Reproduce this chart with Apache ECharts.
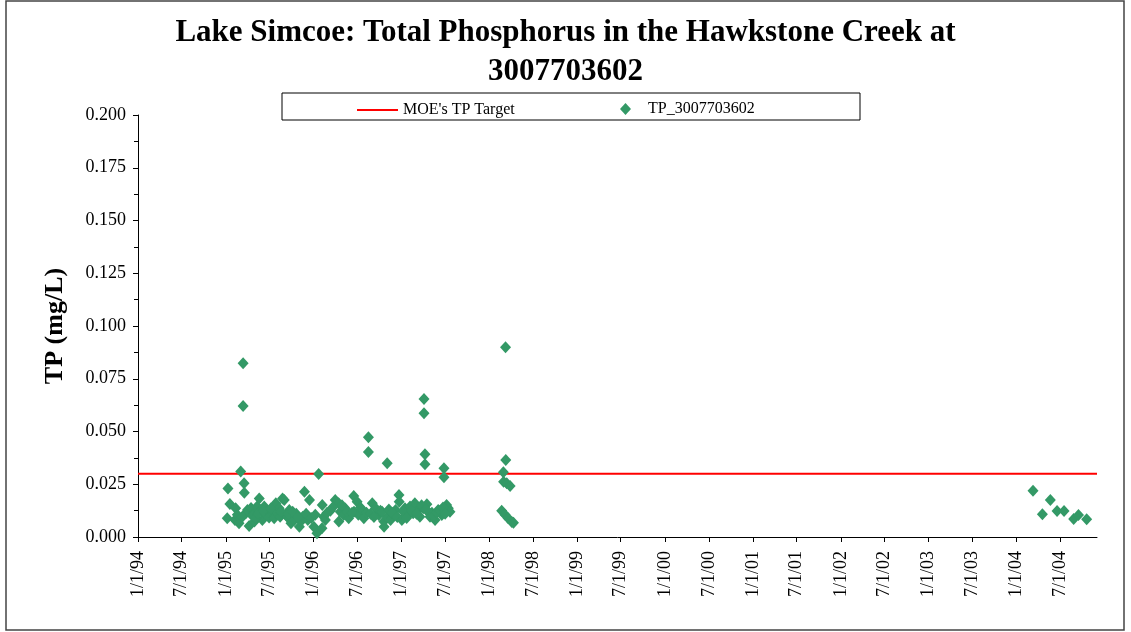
<!DOCTYPE html>
<html>
<head>
<meta charset="utf-8">
<title>Lake Simcoe TP - Hawkstone Creek</title>
<script src="https://cdn.jsdelivr.net/npm/echarts@6/dist/echarts.min.js"></script>
<style>
  html, body { margin: 0; padding: 0; background: #fff; }
  #chart { width: 1131px; height: 632px; }
</style>
</head>
<body>
<div id="chart"></div>
<script>
// TP 目标值 (mg/L)
var targetValue = 0.03;
var axisStart = '1994-01-01';
var axisEnd = '2004-12-01';

// x 轴刻度标签
var tickLabels = ['1/1/94', '7/1/94', '1/1/95', '7/1/95', '1/1/96', '7/1/96', '1/1/97', '7/1/97',
    '1/1/98', '7/1/98', '1/1/99', '7/1/99', '1/1/00', '7/1/00', '1/1/01', '7/1/01',
    '1/1/02', '7/1/02', '1/1/03', '7/1/03', '1/1/04', '7/1/04'];

// 采样日期
var sampleDates = [
    // 1995
    '1995-01-07', '1995-01-10', '1995-01-18', '1995-02-08', '1995-02-11', '1995-02-25', '1995-03-04',
    '1995-03-14', '1995-03-14', '1995-03-18', '1995-03-19', '1995-03-25', '1995-04-01', '1995-04-08',
    '1995-04-09', '1995-04-16', '1995-04-29', '1995-04-30', '1995-05-11', '1995-05-20', '1995-05-27',
    '1995-06-02', '1995-06-10', '1995-06-16', '1995-06-23', '1995-06-30', '1995-07-14', '1995-07-21',
    '1995-07-28', '1995-08-03', '1995-08-11', '1995-08-15', '1995-08-25', '1995-09-01', '1995-09-08',
    '1995-09-14', '1995-09-22', '1995-09-29', '1995-10-13', '1995-10-21', '1995-11-03', '1995-11-10',
    '1995-11-17', '1995-11-24', '1995-12-08', '1995-12-15',
    '1995-02-18', '1995-03-10', '1995-04-22', '1995-05-05', '1995-05-15', '1995-06-06', '1995-07-07',
    '1995-08-18', '1995-09-18', '1995-10-06', '1995-10-27', '1995-12-01', '1995-12-22',
    // 1996
    '1996-01-02', '1996-01-15', '1996-01-22', '1996-02-05', '1996-02-06', '1996-02-12', '1996-02-19',
    '1996-03-11', '1996-03-31', '1996-04-14', '1996-04-15', '1996-04-21', '1996-05-05', '1996-05-12',
    '1996-05-26', '1996-06-16', '1996-06-17', '1996-06-30', '1996-07-05', '1996-07-21', '1996-07-28',
    '1996-08-08', '1996-08-16', '1996-08-16', '1996-09-01', '1996-09-15', '1996-09-28', '1996-10-05',
    '1996-10-19', '1996-10-20', '1996-11-02', '1996-11-03', '1996-11-16', '1996-11-30', '1996-12-07',
    '1996-12-21', '1996-12-22',
    '1996-01-08', '1996-02-26', '1996-03-20', '1996-04-28', '1996-05-19', '1996-06-09', '1996-07-14',
    '1996-08-25', '1996-09-08', '1996-10-12', '1996-11-09', '1996-11-23', '1996-12-14',
    // 1997
    '1997-01-02', '1997-01-15', '1997-01-29', '1997-02-05', '1997-02-18', '1997-02-25', '1997-03-11',
    '1997-03-18', '1997-04-01', '1997-04-04', '1997-04-04', '1997-04-08', '1997-04-08', '1997-04-16',
    '1997-04-22', '1997-04-29', '1997-05-07', '1997-05-20', '1997-06-02', '1997-06-17', '1997-06-26',
    '1997-06-26', '1997-07-07', '1997-07-14', '1997-07-21',
    '1997-01-08', '1997-01-22', '1997-02-11', '1997-03-04', '1997-03-25', '1997-04-12', '1997-05-14',
    '1997-05-27', '1997-06-10', '1997-06-22', '1997-07-01',
    // 1998
    '1998-02-21', '1998-02-28', '1998-03-01', '1998-03-07', '1998-03-09', '1998-03-10', '1998-03-14',
    '1998-03-20', '1998-03-28', '1998-04-04', '1998-04-11',
    // 2004
    '2004-03-10', '2004-04-18', '2004-05-21', '2004-06-18', '2004-07-17', '2004-08-26', '2004-09-15',
    '2004-10-19'
];

// TP_3007703602 (mg/L)
var tpValues = [
    // 1995
    0.0089, 0.0230, 0.0156, 0.0081, 0.0136, 0.0065, 0.0310,
    0.0823, 0.0621, 0.0255, 0.0210, 0.0112, 0.0128, 0.0052,
    0.0120, 0.0138, 0.0112, 0.0073, 0.0145, 0.0183, 0.0128,
    0.0081, 0.0144, 0.0105, 0.0120, 0.0093, 0.0115, 0.0089,
    0.0160, 0.0115, 0.0136, 0.0096, 0.0183, 0.0175, 0.0104,
    0.0095, 0.0128, 0.0065, 0.0081, 0.0110, 0.0049, 0.0075,
    0.0096, 0.0215, 0.0081, 0.0175,
    0.0105, 0.0095, 0.0100, 0.0090, 0.0110, 0.0125, 0.0135,
    0.0120, 0.0110, 0.0120, 0.0095, 0.0110, 0.0090,
    // 1996
    0.0049, 0.0018, 0.0299, 0.0041, 0.0152, 0.0096, 0.0081,
    0.0125, 0.0175, 0.0160, 0.0073, 0.0120, 0.0104, 0.0135,
    0.0089, 0.0194, 0.0120, 0.0167, 0.0105, 0.0128, 0.0089,
    0.0115, 0.0473, 0.0403, 0.0160, 0.0136, 0.0104, 0.0125,
    0.0073, 0.0049, 0.0349, 0.0095, 0.0081, 0.0104, 0.0128,
    0.0199, 0.0167,
    0.0105, 0.0115, 0.0140, 0.0150, 0.0120, 0.0115, 0.0140,
    0.0110, 0.0095, 0.0120, 0.0130, 0.0115, 0.0095,
    // 1997
    0.0081, 0.0136, 0.0104, 0.0145, 0.0112, 0.0160, 0.0128,
    0.0096, 0.0136, 0.0654, 0.0586, 0.0392, 0.0345, 0.0155,
    0.0120, 0.0096, 0.0115, 0.0081, 0.0128, 0.0104, 0.0326,
    0.0283, 0.0152, 0.0136, 0.0120,
    0.0120, 0.0090, 0.0125, 0.0110, 0.0150, 0.0130, 0.0100,
    0.0115, 0.0125, 0.0140, 0.0110,
    // 1998
    0.0125, 0.0307, 0.0262, 0.0106, 0.0899, 0.0365, 0.0255,
    0.0089, 0.0242, 0.0071, 0.0068,
    // 2004
    0.0219, 0.0108, 0.0175, 0.0123, 0.0123, 0.0085, 0.0104,
    0.0084
];

function parseIso(s) {
    var p = s.split('-');
    return new Date(+p[0], +p[1] - 1, +p[2]).getTime();
}
function parseUs(s) {
    var p = s.split('/');
    var yy = +p[2];
    return new Date(yy < 50 ? 2000 + yy : 1900 + yy, +p[0] - 1, +p[1]).getTime();
}
function fmtUs(v) {
    var d = new Date(v);
    return (d.getMonth() + 1) + '/' + d.getDate() + '/' + String(d.getFullYear()).slice(2);
}

var tickValues = tickLabels.map(parseUs);
var xMin = parseIso(axisStart);
var xMax = parseIso(axisEnd);
var targetData = [[xMin, targetValue], [xMax, targetValue]];
var tpData = sampleDates.map(function (d, i) { return [parseIso(d), tpValues[i]]; });

var serif = '"Liberation Serif", "Times New Roman", serif';

var chart = echarts.init(document.getElementById('chart'), null, { renderer: 'canvas' });
var option = {
    backgroundColor: '#fff',
    animation: false,
    title: {
        text: 'Lake Simcoe: Total Phosphorus in the Hawkstone Creek at\n3007703602',
        left: 'center',
        top: 8,
        textStyle: {
            fontFamily: serif,
            fontSize: 31,
            fontWeight: 'bold',
            color: '#000',
            lineHeight: 39
        }
    },
    legend: [
        {
            data: [{ name: "MOE's TP Target", icon: 'rect' }],
            left: 352,
            top: 97,
            itemWidth: 41,
            itemHeight: 2,
            itemGap: 8,
            textStyle: { fontFamily: serif, fontSize: 16, color: '#000' }
        },
        {
            data: ['TP_3007703602'],
            left: 615,
            top: 96,
            itemWidth: 11,
            itemHeight: 12,
            itemGap: 8,
            textStyle: { fontFamily: serif, fontSize: 16, color: '#000', padding: [0, 0, 0, 12] }
        }
    ],
    graphic: [
        {
            type: 'rect',
            shape: { x: 282, y: 93, width: 578, height: 27 },
            style: { fill: null, stroke: '#000', lineWidth: 1 },
            silent: true
        },
        {
            type: 'rect',
            shape: { x: 6, y: 1, width: 1118, height: 629 },
            style: { fill: null, stroke: '#444', lineWidth: 1.5 },
            silent: true
        }
    ],
    grid: {
        left: 138,
        right: 34,
        top: 115,
        bottom: 95
    },
    xAxis: {
        type: 'value',
        min: xMin,
        max: xMax,
        axisLine: { lineStyle: { color: '#000', width: 1 } },
        axisTick: {
            show: true,
            customValues: tickValues,
            length: 5,
            lineStyle: { color: '#000' }
        },
        axisLabel: {
            customValues: tickValues,
            formatter: fmtUs,
            rotate: 90,
            margin: 14,
            fontFamily: serif,
            fontSize: 18,
            color: '#000'
        },
        splitLine: { show: false }
    },
    yAxis: {
        type: 'value',
        min: 0,
        max: 0.2,
        interval: 0.025,
        name: 'TP (mg/L)',
        nameLocation: 'middle',
        nameGap: 70,
        nameTextStyle: {
            fontFamily: serif,
            fontSize: 26,
            fontWeight: 'bold',
            color: '#000'
        },
        axisLine: { show: true, lineStyle: { color: '#000', width: 1 } },
        axisTick: { show: true, length: 5, lineStyle: { color: '#000' } },
        minorTick: { show: true, splitNumber: 2, length: 4, lineStyle: { color: '#000' } },
        axisLabel: {
            formatter: function (v) { return v.toFixed(3); },
            margin: 12,
            fontFamily: serif,
            fontSize: 18,
            color: '#000'
        },
        splitLine: { show: false }
    },
    series: [
        {
            name: "MOE's TP Target",
            type: 'line',
            data: targetData,
            symbol: 'none',
            lineStyle: { color: '#ff0000', width: 2 },
            itemStyle: { color: '#ff0000' },
            z: 2
        },
        {
            name: 'TP_3007703602',
            type: 'scatter',
            data: tpData,
            symbol: 'diamond',
            symbolSize: [11, 12],
            itemStyle: { color: '#339966', opacity: 1 },
            z: 3
        }
    ]
};
chart.setOption(option);
</script>
</body>
</html>
